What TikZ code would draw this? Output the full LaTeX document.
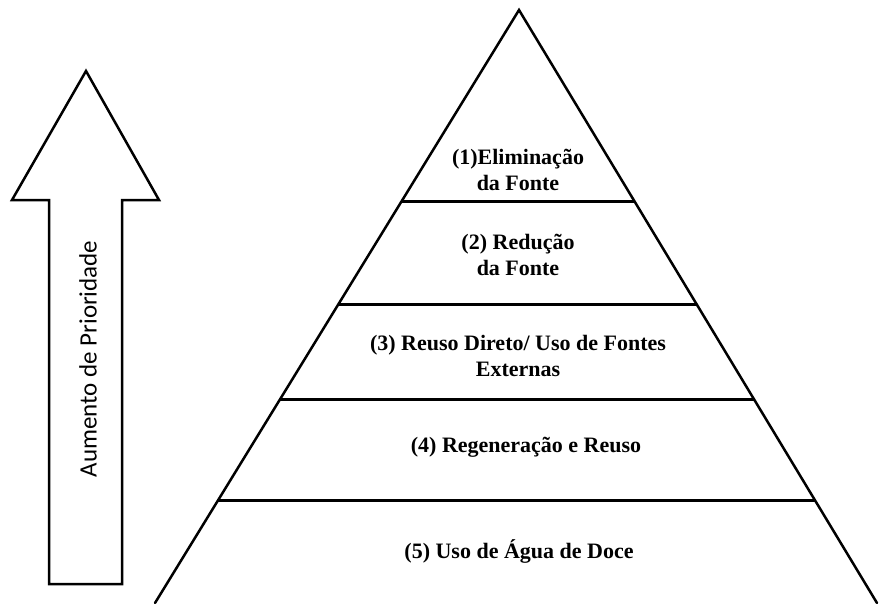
\documentclass[tikz,border=0pt]{standalone}
\usepackage{fontspec}
\setmainfont{Liberation Serif}
\newfontfamily\arrowfont{Carlito}
\usetikzlibrary{calc}
\begin{document}
\begin{tikzpicture}[x=1pt,y=-1pt,
  edge/.style={line width=2.5pt,line cap=round},
  band/.style={line width=3pt},
  level/.style={font=\bfseries\fontsize{22}{26}\selectfont,align=center,inner sep=0pt},
  arrowbody/.style={line width=2.5pt,line join=miter,fill=white}]
  \useasboundingbox (0,0) rectangle (880,603);

  % priority arrow
  \draw[arrowbody] (86,71) -- (159,200) -- (122,200) -- (122,584) -- (49,584)
    -- (49,200) -- (12,200) -- cycle;
  \node[font=\arrowfont\fontsize{25}{28}\selectfont,rotate=90,inner sep=0pt] (prio)
    at (88,359) {Aumento de Prioridade};

  % pyramid outline
  \coordinate (apex) at (519,10);
  \coordinate (bl) at (155,603);
  \coordinate (br) at (877,603);
  \draw[edge] (bl) -- (apex) -- (br);

  % band boundaries
  \foreach \t/\n in {0.3221/a,0.4958/b,0.6560/c,0.8263/d}{
    \coordinate (l\n) at ($(apex)!\t!(bl)$);
    \coordinate (r\n) at ($(apex)!\t!(br)$);
    \draw[band] (l\n) -- (r\n);
  }

  % level labels
  \node[level] (n1) at (518,170) {(1)Eliminação\\da Fonte};
  \node[level] (n2) at (518,255) {(2) Redução\\da Fonte};
  \node[level] (n3) at (518,356) {(3) Reuso Direto/ Uso de Fontes\\Externas};
  \node[level] (n4) at (526,447) {(4) Regeneração e Reuso};
  \node[level] (n5) at (519,551) {(5) Uso de Água de Doce};
\end{tikzpicture}
\end{document}
